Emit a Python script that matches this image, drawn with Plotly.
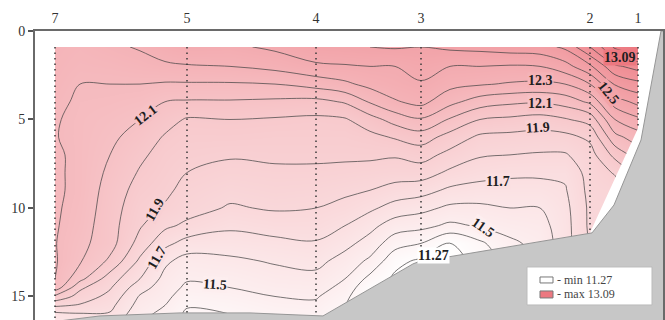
import plotly.graph_objects as go

# ---------------- data ----------------
station_names = ["7", "5", "4", "3", "2", "1"]
station_km = [1.0, 7.6, 14.05, 19.3, 27.75, 30.15]
station_bottom = [16.3, 15.9, 16.1, 13.1, 11.4, 5.5]

grid_km = [1.0, 2.25, 3.75, 5.25, 6.5, 7.6, 9.75, 12.0, 14.05, 15.5, 16.75,
           18.0, 19.3, 20.75, 22.25, 23.75, 25.25, 26.5, 27.75, 29.0, 30.15]
grid_depth = [0.9, 2, 3, 4, 5, 6, 7, 8, 9, 10, 11, 12, 13, 14, 14.5, 15, 15.5, 16, 16.5]

col_st7 = [12.27, 12.26, 12.25, 12.23, 12.21, 12.205, 12.22, 12.22, 12.22, 12.215, 12.21, 12.205, 12.21, 12.20, 12.16, 11.98, 11.82, 11.67, 11.60]
col_2 = [12.25, 12.23, 12.20, 12.18, 12.17, 12.17, 12.17, 12.17, 12.17, 12.16, 12.15, 12.13, 12.11, 12.03, 11.92, 11.86, 11.79, 11.69, 11.64]
col_3 = [12.28, 12.24, 12.20, 12.17, 12.14, 12.12, 12.10, 12.08, 12.06, 12.05, 12.04, 12.04, 11.98, 11.85, 11.81, 11.77, 11.73, 11.69, 11.64]
col_5 = [12.31, 12.26, 12.20, 12.15, 12.10, 12.06, 12.02, 11.99, 11.96, 11.93, 11.91, 11.86, 11.78, 11.70, 11.64, 11.59, 11.56, 11.53, 11.50]
col_6 = [12.36, 12.28, 12.19, 12.10, 12.04, 11.99, 11.96, 11.94, 11.92, 11.89, 11.82, 11.73, 11.62, 11.57, 11.55, 11.53, 11.50, 11.47, 11.45]
col_st5 = [12.39, 12.29, 12.19, 12.09, 11.99, 11.96, 11.93, 11.90, 11.87, 11.84, 11.78, 11.66, 11.56, 11.51, 11.48, 11.44, 11.41, 11.38, 11.36]
col_10 = [12.38, 12.30, 12.19, 12.09, 12.00, 11.96, 11.91, 11.87, 11.83, 11.79, 11.72, 11.65, 11.58, 11.52, 11.50, 11.46, 11.43, 11.40, 11.38]
col_12 = [12.42, 12.33, 12.20, 12.08, 11.99, 11.95, 11.92, 11.88, 11.85, 11.81, 11.75, 11.67, 11.61, 11.56, 11.53, 11.50, 11.47, 11.44, 11.42]
col_st4 = [12.48, 12.38, 12.24, 12.07, 11.98, 11.95, 11.92, 11.88, 11.84, 11.80, 11.75, 11.69, 11.63, 11.57, 11.54, 11.51, 11.48, 11.45, 11.43]
col_15 = [12.49, 12.39, 12.28, 12.11, 11.99, 11.95, 11.92, 11.87, 11.82, 11.77, 11.70, 11.63, 11.56, 11.50, 11.47, 11.43, 11.40, 11.37, 11.35]
col_17 = [12.50, 12.40, 12.33, 12.21, 12.06, 11.97, 11.92, 11.86, 11.80, 11.72, 11.63, 11.56, 11.48, 11.37, 11.31, 11.28, 11.27, 11.27, 11.27]
col_18 = [12.51, 12.40, 12.36, 12.29, 12.14, 12.01, 11.91, 11.85, 11.76, 11.66, 11.55, 11.44, 11.33, 11.28, 11.27, 11.27, 11.27, 11.27, 11.27]
col_st3 = [12.50, 12.44, 12.39, 12.33, 12.19, 12.05, 11.94, 11.85, 11.74, 11.63, 11.53, 11.40, 11.28, 11.27, 11.27, 11.27, 11.27, 11.27, 11.27]
col_21 = [12.52, 12.40, 12.33, 12.23, 12.09, 11.96, 11.87, 11.78, 11.68, 11.58, 11.48, 11.29, 11.27, 11.27, 11.27, 11.27, 11.27, 11.27, 11.27]
col_22 = [12.53, 12.40, 12.31, 12.15, 12.00, 11.88, 11.81, 11.74, 11.66, 11.58, 11.51, 11.38, 11.32, 11.30, 11.30, 11.30, 11.30, 11.30, 11.30]
col_24 = [12.55, 12.39, 12.29, 12.12, 11.98, 11.87, 11.80, 11.72, 11.66, 11.60, 11.54, 11.48, 11.45, 11.43, 11.43, 11.43, 11.43, 11.43, 11.43]
col_25 = [12.56, 12.40, 12.28, 12.11, 11.96, 11.86, 11.79, 11.72, 11.66, 11.60, 11.56, 11.53, 11.51, 11.50, 11.50, 11.50, 11.50, 11.50, 11.50]
col_26 = [12.62, 12.46, 12.30, 12.14, 11.99, 11.87, 11.79, 11.72, 11.69, 11.67, 11.66, 11.66, 11.66, 11.66, 11.66, 11.66, 11.66, 11.66, 11.66]
col_st2 = [12.80, 12.58, 12.40, 12.22, 12.04, 11.92, 11.86, 11.84, 11.83, 11.82, 11.82, 11.81, 11.81, 11.81, 11.81, 11.81, 11.81, 11.81, 11.81]
col_29 = [13.02, 12.78, 12.61, 12.45, 12.30, 12.17, 12.03, 11.91, 11.85, 11.83, 11.82, 11.82, 11.82, 11.82, 11.82, 11.82, 11.82, 11.82, 11.82]
col_st1 = [13.09, 12.84, 12.67, 12.53, 12.38, 12.25, 12.15, 12.05, 12.00, 11.95, 11.92, 11.90, 11.90, 11.90, 11.90, 11.90, 11.90, 11.90, 11.90]

# sea-bottom outline (km, depth m)
bottom_km = [31.3, 30.3, 28.95, 27.85, 19.15, 18.9, 14.4, 13.25, 10.75, 7.25, 3.25, 1.25]
bottom_depth = [0.0, 6.16, 9.83, 11.41, 13.05, 13.16, 16.1, 16.05, 15.93, 15.93, 16.1, 16.38]
# lower-right edge of the measured section
edge_km = [30.15, 27.75]
edge_depth = [5.5, 11.4]

zmin_val, zmax_val = 11.27, 13.09
label_text = ["12.1", "11.9", "11.7", "11.5", "12.3", "12.1", "11.9", "11.7", "11.5", "11.27", "12.5", "13.09"]
label_val = [12.1, 11.9, 11.7, 11.5, 12.3, 12.1, 11.9, 11.7, 11.5, 11.27, 12.5, 13.09]
label_km = [5.5, 6.0, 6.1, 9.0, 25.25, 25.25, 25.15, 23.15, 22.4, 19.9, 28.65, 29.25]
label_depth = [4.75, 10.1, 12.8, 14.35, 2.77, 4.07, 5.48, 8.53, 11.13, 12.66, 3.5, 1.5]
label_angle = [-38, -60, -60, 4, 0, 0, -4, 0, 35, 0, 50, 0]

# ---------------- figure ----------------
columns = [col_st7, col_2, col_3, col_5, col_6, col_st5, col_10, col_12, col_st4, col_15,
           col_17, col_18, col_st3, col_21, col_22, col_24, col_25, col_26, col_st2, col_29, col_st1]
z = [[columns[j][i] for j in range(len(columns))] for i in range(len(grid_depth))]

lo = (255, 255, 255)
hi = (236, 120, 128)


def color_at(v):
    t = max(0.0, min(1.0, (v - zmin_val) / (zmax_val - zmin_val)))
    c = [round(lo[k] + (hi[k] - lo[k]) * t) for k in range(3)]
    return "rgb(%d,%d,%d)" % tuple(c)


serif = "Liberation Serif"
fig = go.Figure()
fig.add_trace(go.Contour(
    x=grid_km, y=grid_depth, z=z,
    zmin=zmin_val, zmax=zmax_val, zauto=False,
    colorscale=[[0, "rgb(255,255,255)"], [1, "rgb(%d,%d,%d)" % hi]],
    contours=dict(start=11.3, end=13.0, size=0.1, coloring="heatmap", showlabels=False),
    line=dict(color="rgba(65,65,65,0.8)", width=0.9, smoothing=1.0),
    showscale=False, hoverinfo="skip",
))

shapes = []
# white wedge beyond the section's lower-right edge
shapes.append(dict(type="path", xref="x", yref="y", layer="above",
                   path="M %f,%f L %f,%f L 32,%f L 32,%f Z" % (edge_km[0], edge_depth[0], edge_km[1], edge_depth[1], edge_depth[1], edge_depth[0]),
                   fillcolor="white", line=dict(width=0)))
# sea bottom
p = "M " + " L ".join("%f,%f" % (a, b) for a, b in zip(bottom_km, bottom_depth)) + " L 1.25,17 L 32,17 L 32,0 Z"
shapes.append(dict(type="path", xref="x", yref="y", layer="above", path=p,
                   fillcolor="rgb(199,199,199)", line=dict(color="rgb(150,150,150)", width=1)))
# station dotted lines
for xs, b in zip(station_km, station_bottom):
    shapes.append(dict(type="line", xref="x", yref="y", layer="above", x0=xs, x1=xs, y0=grid_depth[0], y1=b,
                       line=dict(color="#3a3a3a", width=1.5, dash="1.5px,4px")))


# legend box (pixel layout converted to axis units)
def px_x(px):
    return (px - 35) / 20.0


def px_y(py):
    return (py - 31) / 17.7


shapes.append(dict(type="rect", xref="x", yref="y", layer="above",
                   x0=px_x(527), x1=px_x(652), y0=px_y(267), y1=px_y(305),
                   fillcolor="white", line=dict(color="#bbb", width=1)))
shapes.append(dict(type="rect", xref="x", yref="y", layer="above",
                   x0=px_x(540), x1=px_x(553), y0=px_y(277), y1=px_y(283),
                   fillcolor="white", line=dict(color="#777", width=1)))
shapes.append(dict(type="rect", xref="x", yref="y", layer="above",
                   x0=px_x(540), x1=px_x(553), y0=px_y(291), y1=px_y(298),
                   fillcolor=color_at(zmax_val), line=dict(color="#777", width=1)))

annotations = []
for t, v, xk, yd, ang in zip(label_text, label_val, label_km, label_depth, label_angle):
    annotations.append(dict(x=xk, y=yd, xref="x", yref="y", text="<b>" + t + "</b>", showarrow=False,
                            textangle=ang, bgcolor=color_at(v), borderpad=0,
                            font=dict(family=serif, size=14, color="#1e1e1e")))
annotations.append(dict(x=px_x(555), y=px_y(280), xref="x", yref="y", xanchor="left", text="- min 11.27",
                        showarrow=False, font=dict(family=serif, size=12, color="#444")))
annotations.append(dict(x=px_x(555), y=px_y(294.5), xref="x", yref="y", xanchor="left", text="- max 13.09",
                        showarrow=False, font=dict(family=serif, size=12, color="#444")))

fig.update_layout(
    width=665, height=320,
    margin=dict(l=35, r=2, t=31, b=0),
    paper_bgcolor="white", plot_bgcolor="white",
    shapes=shapes, annotations=annotations, showlegend=False,
    xaxis=dict(side="top", range=[0, 31.4], tickvals=station_km, ticktext=station_names,
               showgrid=False, zeroline=False, showline=True, linecolor="#6a6a6a", linewidth=2,
               ticks="", tickfont=dict(family=serif, size=14, color="#333")),
    yaxis=dict(range=[16.33, 0], tickvals=[0, 5, 10, 15], showgrid=False, zeroline=False,
               showline=True, linecolor="#6a6a6a", linewidth=2, mirror=True,
               ticks="outside", ticklen=5, tickcolor="#555", tickwidth=1.5,
               tickfont=dict(family=serif, size=14, color="#333")),
)

fig.write_html("out.html")
